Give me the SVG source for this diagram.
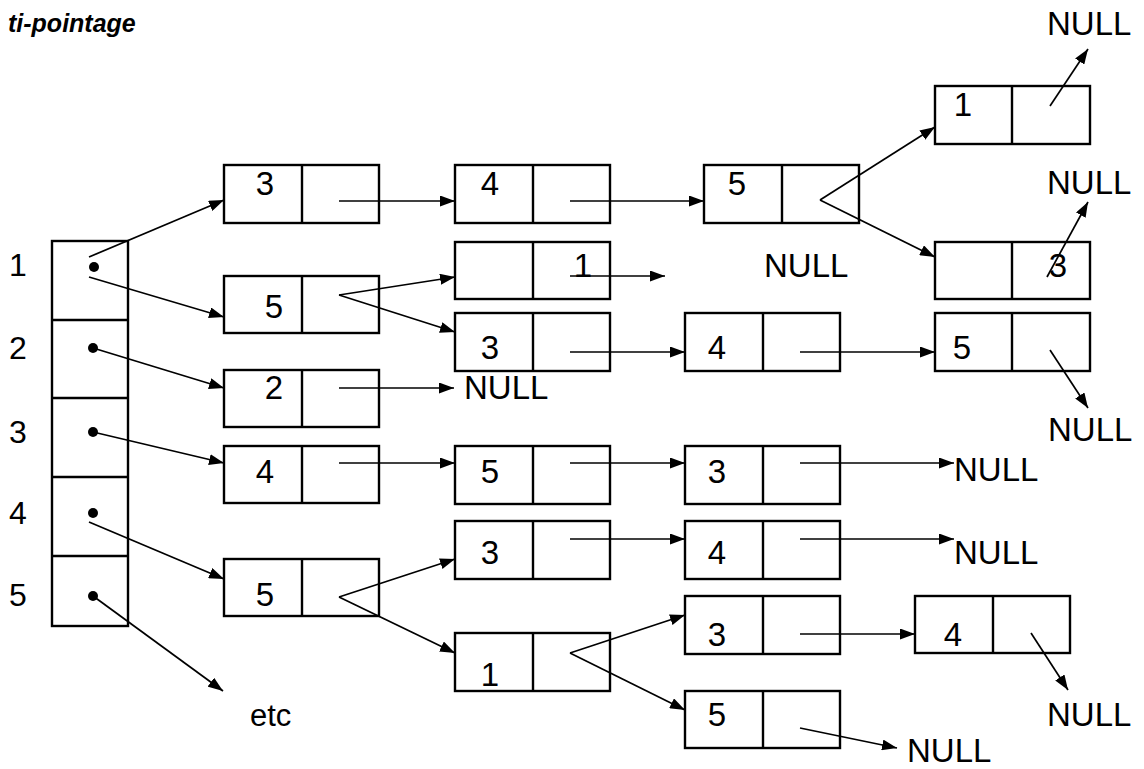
<svg xmlns="http://www.w3.org/2000/svg" width="1144" height="769" viewBox="0 0 1144 769">
<style>
.b{fill:#fff;stroke:#000;stroke-width:2.4}
.d{stroke:#000;stroke-width:2.4}
.v{font-family:"Liberation Sans",Arial,sans-serif;font-size:33px;fill:#000;text-anchor:middle}
.r{font-family:"Liberation Sans",Arial,sans-serif;font-size:32px;fill:#000;text-anchor:middle}
.t{font-family:"Liberation Sans",Arial,sans-serif;font-size:33px;fill:#000}
.c line{stroke:#000;stroke-width:1.7;fill:none}
</style>
<defs>
<marker id="ah" viewBox="0 0 15 11" refX="15" refY="5.5" markerWidth="15" markerHeight="11" markerUnits="userSpaceOnUse" orient="auto">
<path d="M0,0 L15,5.5 L0,11 z" fill="#000"/>
</marker>
</defs>
<rect width="1144" height="769" fill="#fff"/>
<text x="8" y="32" font-family="Liberation Sans,Arial,sans-serif" font-size="25" font-weight="bold" font-style="italic">ti-pointage</text>

<g id="array">
<rect class="b" x="52" y="241" width="76" height="385"/>
<line class="d" x1="52" y1="320" x2="128" y2="320"/>
<line class="d" x1="52" y1="398" x2="128" y2="398"/>
<line class="d" x1="52" y1="477" x2="128" y2="477"/>
<line class="d" x1="52" y1="556" x2="128" y2="556"/>
<circle cx="94" cy="267" r="5"/>
<circle cx="93" cy="348" r="5"/>
<circle cx="93" cy="432" r="5"/>
<circle cx="93" cy="513" r="5"/>
<circle cx="93" cy="596" r="5"/>
<text class="r" x="18" y="276">1</text>
<text class="r" x="18" y="359">2</text>
<text class="r" x="18" y="443">3</text>
<text class="r" x="18" y="524">4</text>
<text class="r" x="18" y="606">5</text>
</g>

<g id="n1"><rect class="b" x="224" y="165" width="155" height="58"/><line class="d" x1="302" y1="165" x2="302" y2="223"/><text class="v" x="265" y="195">3</text></g>
<g id="n2"><rect class="b" x="455" y="165" width="155" height="58"/><line class="d" x1="533" y1="165" x2="533" y2="223"/><text class="v" x="490" y="195">4</text></g>
<g id="n3"><rect class="b" x="704" y="165" width="155" height="58"/><line class="d" x1="782" y1="165" x2="782" y2="223"/><text class="v" x="737" y="195">5</text></g>
<g id="n4"><rect class="b" x="935" y="86" width="155" height="58"/><line class="d" x1="1012" y1="86" x2="1012" y2="144"/><text class="v" x="963" y="116">1</text></g>
<g id="n5"><rect class="b" x="935" y="242" width="155" height="57"/><line class="d" x1="1012" y1="242" x2="1012" y2="299"/><text class="v" x="1058" y="277">3</text></g>
<g id="n6"><rect class="b" x="224" y="276" width="155" height="57"/><line class="d" x1="302" y1="276" x2="302" y2="333"/><text class="v" x="274" y="318">5</text></g>
<g id="n7"><rect class="b" x="455" y="242" width="155" height="57"/><line class="d" x1="533" y1="242" x2="533" y2="299"/><text class="v" x="583" y="277">1</text></g>
<g id="n8"><rect class="b" x="455" y="313" width="155" height="58"/><line class="d" x1="533" y1="313" x2="533" y2="371"/><text class="v" x="490" y="359">3</text></g>
<g id="n9"><rect class="b" x="685" y="313" width="155" height="58"/><line class="d" x1="763" y1="313" x2="763" y2="371"/><text class="v" x="717" y="359">4</text></g>
<g id="n10"><rect class="b" x="935" y="313" width="155" height="58"/><line class="d" x1="1012" y1="313" x2="1012" y2="371"/><text class="v" x="962" y="359">5</text></g>
<g id="n11"><rect class="b" x="224" y="370" width="155" height="57"/><line class="d" x1="302" y1="370" x2="302" y2="427"/><text class="v" x="274" y="399">2</text></g>
<g id="n12"><rect class="b" x="224" y="446" width="155" height="57"/><line class="d" x1="302" y1="446" x2="302" y2="503"/><text class="v" x="265" y="483">4</text></g>
<g id="n13"><rect class="b" x="455" y="446" width="155" height="58"/><line class="d" x1="533" y1="446" x2="533" y2="504"/><text class="v" x="490" y="483">5</text></g>
<g id="n14"><rect class="b" x="685" y="446" width="155" height="58"/><line class="d" x1="763" y1="446" x2="763" y2="504"/><text class="v" x="717" y="483">3</text></g>
<g id="n15"><rect class="b" x="224" y="559" width="155" height="57"/><line class="d" x1="302" y1="559" x2="302" y2="616"/><text class="v" x="265" y="606">5</text></g>
<g id="n16"><rect class="b" x="455" y="521" width="155" height="58"/><line class="d" x1="533" y1="521" x2="533" y2="579"/><text class="v" x="490" y="564">3</text></g>
<g id="n17"><rect class="b" x="685" y="521" width="155" height="58"/><line class="d" x1="763" y1="521" x2="763" y2="579"/><text class="v" x="717" y="564">4</text></g>
<g id="n18"><rect class="b" x="455" y="633" width="155" height="58"/><line class="d" x1="533" y1="633" x2="533" y2="691"/><text class="v" x="490" y="686">1</text></g>
<g id="n19"><rect class="b" x="685" y="596" width="155" height="58"/><line class="d" x1="763" y1="596" x2="763" y2="654"/><text class="v" x="717" y="646">3</text></g>
<g id="n20"><rect class="b" x="915" y="596" width="155" height="57"/><line class="d" x1="993" y1="596" x2="993" y2="653"/><text class="v" x="953" y="646">4</text></g>
<g id="n21"><rect class="b" x="685" y="691" width="155" height="57"/><line class="d" x1="763" y1="691" x2="763" y2="748"/><text class="v" x="717" y="726">5</text></g>

<g id="labels">
<text class="t" x="1047" y="35">NULL</text>
<text class="t" x="1047" y="194">NULL</text>
<text class="t" x="764" y="277">NULL</text>
<text class="t" x="464" y="399">NULL</text>
<text class="t" x="1048" y="441">NULL</text>
<text class="t" x="954" y="481">NULL</text>
<text class="t" x="954" y="564">NULL</text>
<text class="t" x="1047" y="726">NULL</text>
<text class="t" x="907" y="762">NULL</text>
<text class="t" x="250" y="726" style="font-size:31px">etc</text>
</g>

<g id="connectors" class="c">
<line x1="89" y1="257" x2="224" y2="200" marker-end="url(#ah)"/>
<line x1="89" y1="277" x2="224" y2="317" marker-end="url(#ah)"/>
<line x1="93" y1="348" x2="224" y2="388" marker-end="url(#ah)"/>
<line x1="93" y1="432" x2="224" y2="463" marker-end="url(#ah)"/>
<line x1="89" y1="522" x2="224" y2="579" marker-end="url(#ah)"/>
<line x1="93" y1="596" x2="223" y2="691" marker-end="url(#ah)"/>
<line x1="339" y1="201" x2="455" y2="201" marker-end="url(#ah)"/>
<line x1="570" y1="201" x2="704" y2="201" marker-end="url(#ah)"/>
<line x1="820" y1="200" x2="935" y2="127" marker-end="url(#ah)"/>
<line x1="820" y1="200" x2="935" y2="257" marker-end="url(#ah)"/>
<line x1="1050" y1="106" x2="1088" y2="49" marker-end="url(#ah)"/>
<line x1="1047" y1="277" x2="1088" y2="202" marker-end="url(#ah)"/>
<line x1="339" y1="295" x2="455" y2="277" marker-end="url(#ah)"/>
<line x1="339" y1="295" x2="455" y2="332" marker-end="url(#ah)"/>
<line x1="570" y1="276" x2="665" y2="276" marker-end="url(#ah)"/>
<line x1="570" y1="352" x2="685" y2="352" marker-end="url(#ah)"/>
<line x1="800" y1="352" x2="935" y2="352" marker-end="url(#ah)"/>
<line x1="1050" y1="350" x2="1088" y2="408" marker-end="url(#ah)"/>
<line x1="339" y1="388" x2="454" y2="388" marker-end="url(#ah)"/>
<line x1="339" y1="463" x2="455" y2="463" marker-end="url(#ah)"/>
<line x1="570" y1="463" x2="685" y2="463" marker-end="url(#ah)"/>
<line x1="800" y1="463" x2="954" y2="463" marker-end="url(#ah)"/>
<line x1="570" y1="539" x2="685" y2="539" marker-end="url(#ah)"/>
<line x1="800" y1="539" x2="954" y2="539" marker-end="url(#ah)"/>
<line x1="339" y1="597" x2="455" y2="559" marker-end="url(#ah)"/>
<line x1="339" y1="597" x2="455" y2="653" marker-end="url(#ah)"/>
<line x1="570" y1="653" x2="685" y2="615" marker-end="url(#ah)"/>
<line x1="570" y1="653" x2="685" y2="710" marker-end="url(#ah)"/>
<line x1="800" y1="634" x2="915" y2="634" marker-end="url(#ah)"/>
<line x1="1031" y1="633" x2="1068" y2="690" marker-end="url(#ah)"/>
<line x1="800" y1="728" x2="897" y2="748" marker-end="url(#ah)"/>
</g>
</svg>
